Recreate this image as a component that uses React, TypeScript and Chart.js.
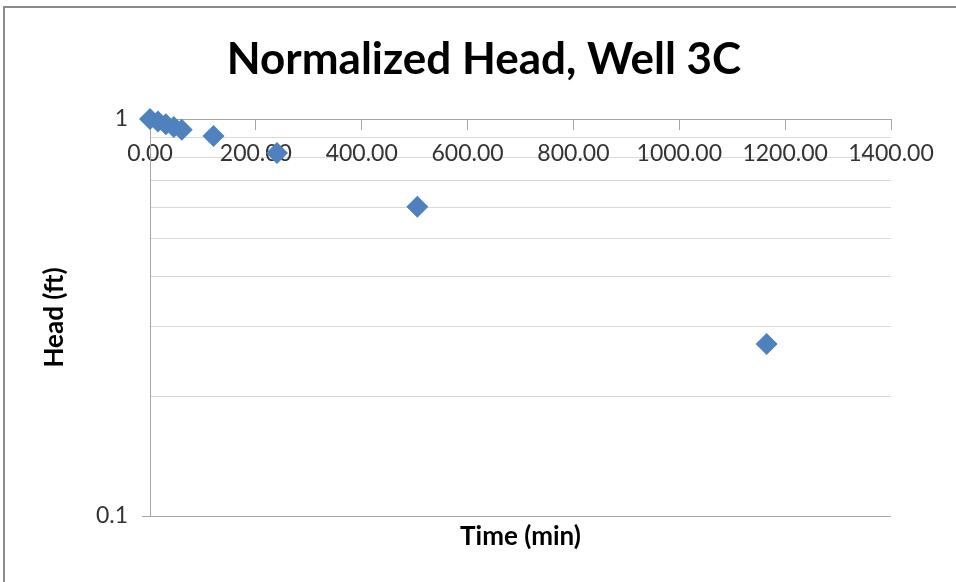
import React, { useEffect, useRef } from "react";
import { Chart, registerables } from "chart.js";

Chart.register(...registerables);

const chartTitle = "Normalized Head, Well 3C";
const xAxisTitle = "Time (min)";
const yAxisTitle = "Head (ft)";
const timeMin = [0, 15, 30, 45, 60, 120, 240, 505, 1165];
const headFt = [1, 0.985, 0.97, 0.955, 0.94, 0.906, 0.821, 0.601, 0.271];
const yGridValues = [0.1, 0.2, 0.3, 0.4, 0.5, 0.6, 0.7, 0.8, 0.9, 1];
const xTickStep = 200;
const xMin = 0;
const xMax = 1400;
const yMin = 0.1;
const yMax = 1;

const FONT = "Lato, 'Open Sans', sans-serif";
const AXIS_GRAY = "#a6a6a6";
const GRID_GRAY = "#d9d9d9";
const POINT_BLUE = "#4F81BD";

const near = (a: number, b: number) => Math.abs(a - b) < 1e-9;

export default function App() {
  const canvasRef = useRef<HTMLCanvasElement | null>(null);

  useEffect(() => {
    if (!canvasRef.current) return;
    const data = timeMin.map((t, i) => ({ x: t, y: headFt[i] }));
    const chart = new Chart(canvasRef.current, {
      type: "scatter",
      data: {
        datasets: [
          {
            label: "Head",
            data,
            pointStyle: "rectRot",
            pointRadius: 11,
            pointHoverRadius: 11,
            backgroundColor: POINT_BLUE,
            borderColor: POINT_BLUE,
            borderWidth: 0,
            clip: false as any,
          },
        ],
      },
      options: {
        responsive: false,
        animation: false,
        events: [],
        layout: { padding: { left: 24, right: 12, top: 0, bottom: 0 } },
        plugins: {
          legend: { display: false },
          tooltip: { enabled: false },
          title: {
            display: true,
            text: chartTitle,
            color: "#000",
            font: { family: FONT, size: 44, weight: "bold" },
            padding: { top: 33.6, bottom: 32.6 },
          },
          subtitle: {
            display: true,
            text: xAxisTitle,
            position: "bottom",
            fullSize: false,
            color: "#000",
            font: { family: FONT, size: 26, weight: "bold" },
            padding: { top: 5.4, bottom: 29.4 },
          },
        },
        scales: {
          x: {
            type: "linear",
            position: { y: 1 } as any,
            min: xMin,
            max: xMax,
            grid: {
              display: true,
              drawOnChartArea: false,
              drawTicks: true,
              tickLength: 10,
              tickColor: AXIS_GRAY,
            },
            border: { display: true, color: AXIS_GRAY, width: 1 },
            ticks: {
              stepSize: xTickStep,
              autoSkip: false,
              maxRotation: 0,
              padding: 11,
              color: "#333",
              font: { family: FONT, size: 23 },
              callback: (v: any) => Number(v).toFixed(2),
            },
          },
          y: {
            type: "logarithmic",
            position: "left",
            min: yMin,
            max: yMax,
            afterBuildTicks: (s: any) => {
              s.ticks = yGridValues.map((v) => ({ value: v, major: near(v, yMin) || near(v, yMax) }));
            },
            afterFit: (s: any) => {
              s.width = 126;
            },
            grid: {
              display: true,
              drawTicks: true,
              tickLength: 8,
              color: (ctx: any) =>
                ctx.tick && near(ctx.tick.value, yMin) ? AXIS_GRAY : GRID_GRAY,
              tickColor: (ctx: any) =>
                ctx.tick && (near(ctx.tick.value, yMin) || near(ctx.tick.value, yMax))
                  ? AXIS_GRAY
                  : "rgba(0,0,0,0)",
            },
            border: { display: true, color: AXIS_GRAY, width: 1 },
            ticks: {
              autoSkip: false,
              padding: 14,
              color: "#333",
              font: { family: FONT, size: 23 },
              callback: (v: any) => {
                const n = Number(v);
                if (near(n, yMax)) return "1";
                if (near(n, yMin)) return "0.1";
                return "";
              },
            },
            title: {
              display: true,
              text: yAxisTitle,
              color: "#000",
              font: { family: FONT, size: 26, weight: "bold" },
              padding: { top: 15.4, bottom: 0 },
            },
          },
          yRightSpace: {
            type: "linear",
            position: "right",
            display: true,
            afterFit: (s: any) => {
              s.width = 53;
            },
            grid: { display: false },
            border: { display: false },
            ticks: { display: false },
            title: { display: false },
          },
        },
      },
    });
    return () => chart.destroy();
  }, []);

  return (
    <div
      style={{
        position: "fixed",
        left: 0,
        top: 0,
        width: 956,
        height: 582,
        overflow: "hidden",
        background: "#fff",
      }}
    >
      <div
        style={{
          position: "absolute",
          left: 3,
          top: 6,
          width: 1000,
          height: 700,
          border: "2px solid #8c8c8c",
          boxSizing: "border-box",
        }}
      />
      <canvas
        ref={canvasRef}
        width={956}
        height={582}
        style={{ position: "absolute", left: 0, top: 0, width: 956, height: 582 }}
      />
    </div>
  );
}
